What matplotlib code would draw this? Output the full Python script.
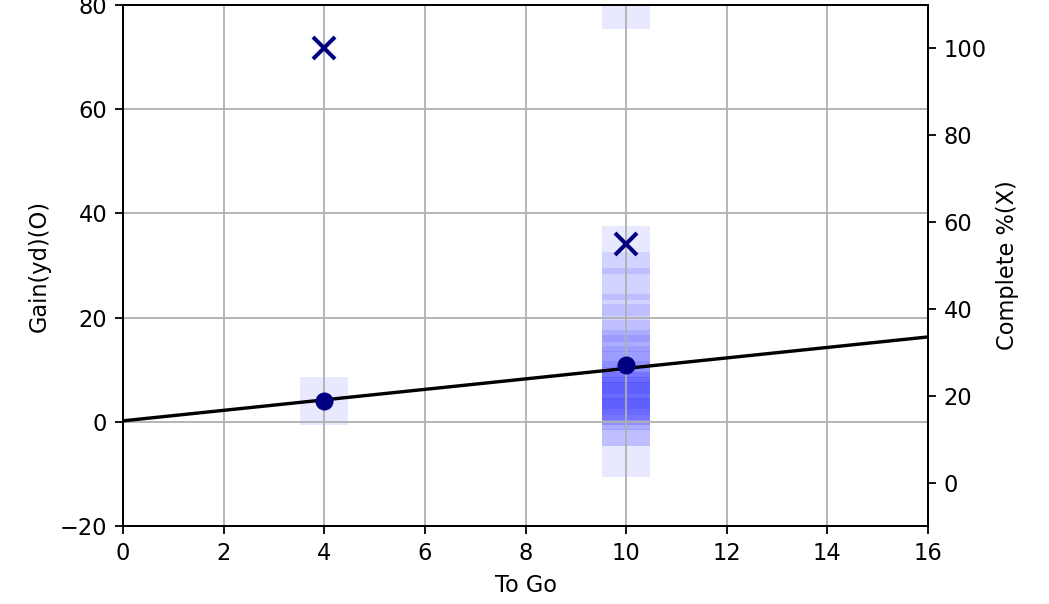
import numpy as np
import matplotlib.pyplot as plt

# individual plays (yards to go, yards gained)
play_togo = [4,
             10, 10, 10, 10, 10, 10, 10, 10, 10, 10, 10,
             10, 10, 10, 10, 10, 10, 10, 10, 10, 10, 10]
play_gain = [4,
             80, 33, 28, 25, 20, 18, 15, 13, 12, 10, 9,
             7, 6, 5, 5, 4, 4, 3, 3, 0, 0, -6]

# per to-go summary
togo = [4, 10]
avg_gain = [4.0, 10.9]
complete_pct = [100, 55]

# fitted line
fit_x = [0, 16]
fit_y = [0.2, 16.3]

fig = plt.figure(figsize=(1049 / 162, 604 / 162), dpi=162)
ax = fig.add_axes([0.1173, 0.129, 0.7674, 0.8627])

ax.scatter(play_togo, play_gain, marker='s', s=460, color='blue', alpha=0.09,
           linewidths=0, zorder=1)
ax.plot(fit_x, fit_y, color='black', linewidth=1.5, zorder=3)
ax.plot(togo, avg_gain, 'o', color='navy', markersize=7, zorder=4)

ax.set_xlim(0, 16)
ax.set_ylim(-20, 80)
ax.set_xticks(np.arange(0, 17, 2))
ax.set_xlabel("To Go")
ax.set_ylabel("Gain(yd)(O)")
ax.grid(True)

ax2 = ax.twinx()
ax2.plot(togo, complete_pct, 'x', color='navy', markersize=10, markeredgewidth=1.8)
ax2.set_ylim(-10, 110)
ax2.set_yticks([0, 20, 40, 60, 80, 100])
ax2.set_ylabel("Complete %(X)")

plt.savefig("out.png", dpi=162)
